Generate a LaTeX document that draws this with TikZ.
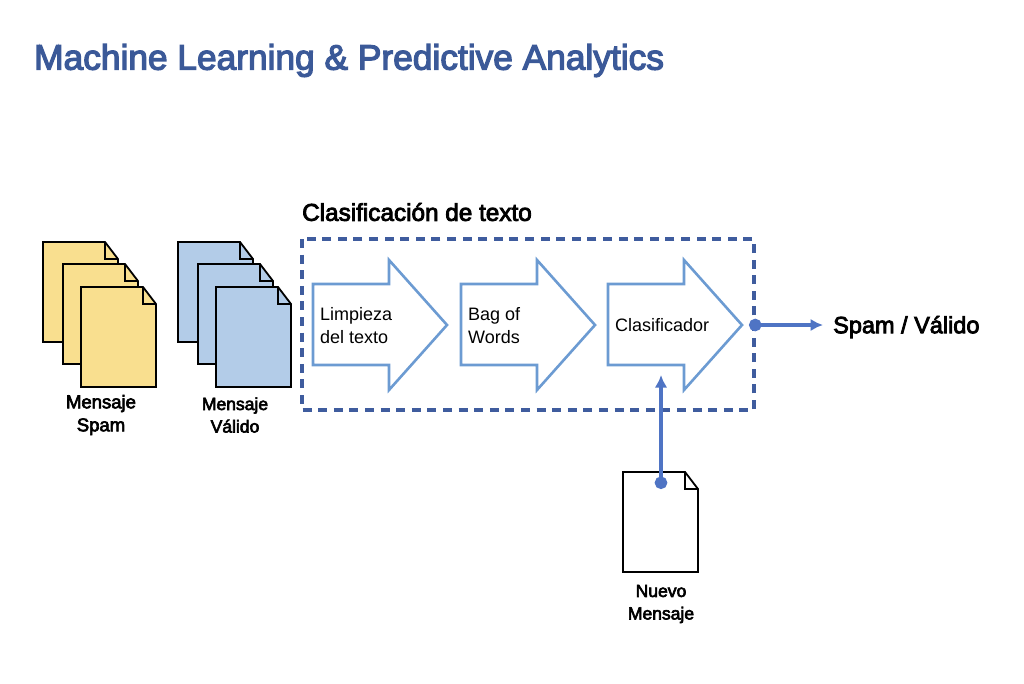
\documentclass[tikz,border=0pt]{standalone}
\usepackage{fontspec}
\setmainfont{Liberation Sans}
\newfontfamily\medfont[FakeBold=3.5]{Liberation Sans}
\usetikzlibrary{arrows.meta}
\definecolor{titleblue}{HTML}{3B5998}
\definecolor{dashblue}{HTML}{3F5C9E}
\definecolor{arrowblue}{HTML}{6C9BD2}
\definecolor{linkblue}{HTML}{4F74C4}
\definecolor{spamfill}{HTML}{F9DF8F}
\definecolor{validfill}{HTML}{B3CCE8}
\tikzset{
	docpage/.style={draw=black,line width=1.8pt,line join=miter},
	blockarrow/.style={draw=arrowblue,line width=2.6pt,fill=white,line join=miter},
	blocklabel/.style={font=\fontsize{18}{23}\selectfont,align=left,anchor=west,inner sep=0pt},
	doclabel/.style={font=\medfont\fontsize{17.5}{22.5}\selectfont,align=center,inner sep=0pt},
	link/.style={draw=linkblue,line width=3.4pt,{Circle[length=12.5pt]}-{Latex[length=12.5pt,width=12.5pt]},shorten <=-6pt}
}
% one page with its folded corner: left, top, fill
\newcommand{\docsheet}[3]{
	\draw[docpage,fill=#3] (#1,#2) -- ++(62,0) -- ++(13,17) -- ++(0,83) -- ++(-75,0) -- cycle;
	\draw[docpage] (#1+62,#2) -- ++(0,17) -- ++(13,0);
}
\begin{document}
\begin{tikzpicture}[x=1pt,y=-1pt]
	\useasboundingbox (0,0) rectangle (1024,683);

	% title
	\node[name=title,font=\medfont\fontsize{35.3}{38}\selectfont,text=titleblue,anchor=west,inner sep=0pt] at (34,60.5) {Machine Learning \& Predictive Analytics};

	% spam pages
	\docsheet{43}{242}{spamfill}
	\docsheet{63}{264}{spamfill}
	\docsheet{81}{287}{spamfill}
	\node[doclabel,font=\medfont\fontsize{18.5}{23}\selectfont,name=spamlabel] at (101,415) {Mensaje\\Spam};

	% valid pages
	\docsheet{178}{242}{validfill}
	\docsheet{198}{264}{validfill}
	\docsheet{216}{287}{validfill}
	\node[doclabel,name=validlabel] at (235,415) {Mensaje\\Válido};

	% dashed block
	\node[name=blocktitle,font=\medfont\fontsize{24.3}{26}\selectfont,anchor=west,inner sep=0pt] at (302,212) {Clasificación de texto};
	\draw[draw=dashblue,line width=3.2pt,dash pattern=on 9pt off 6.6pt] (302,239) rectangle (754,410);

	% block arrows
	\draw[blockarrow] (313,284) -- (389,284) -- (389,260) -- (447,325) -- (389,390) -- (389,365) -- (313,365) -- cycle;
	\draw[blockarrow] (461,284) -- (537,284) -- (537,260) -- (595,325) -- (537,390) -- (537,365) -- (461,365) -- cycle;
	\draw[blockarrow] (608,284) -- (684,284) -- (684,260) -- (742,325) -- (684,390) -- (684,365) -- (608,365) -- cycle;
	\node[blocklabel,name=cleaning] at (320,326) {Limpieza\\del texto};
	\node[blocklabel,name=bagwords] at (468,326) {Bag of\\Words};
	\node[blocklabel,name=classifier] at (615,325.5) {Clasificador};

	% new page
	\docsheet{623}{472}{white}
	\node[doclabel,name=newlabel] at (661,604) {Nuevo\\Mensaje};

	% result
	\node[name=result,font=\medfont\fontsize{23.5}{26}\selectfont,anchor=west,inner sep=0pt] at (833,327) {Spam / Válido};

	% links
	\coordinate (blockout) at (755,325);
	\coordinate (resultin) at (823,325);
	\coordinate (newout) at (661,483);
	\coordinate (classin) at (661,375);
	\draw[link] (blockout) -- (resultin);
	\draw[link] (newout) -- (classin);
\end{tikzpicture}
\end{document}
